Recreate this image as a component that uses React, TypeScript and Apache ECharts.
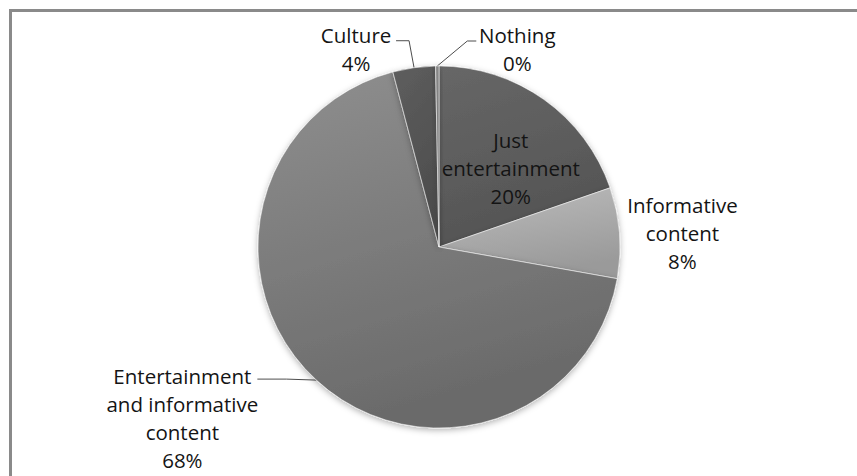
import React, { useEffect, useRef } from 'react';
import * as echarts from 'echarts';

// ---- data ----
const categories = ['Just entertainment', 'Informative content', 'Entertainment and informative content', 'Culture', 'Nothing'];
const labelTexts = ['Just\nentertainment', 'Informative\ncontent', 'Entertainment\nand informative\ncontent', 'Culture', 'Nothing'];
const values = [19.7, 8.1, 68.1, 3.8, 0.3];
const sliceColors = [
  ['#676767', '#545454'],
  ['#bcbcbc', '#9a9a9a'],
  ['#8f8f8f', '#6a6a6a'],
  ['#5e5e5e', '#4c4c4c'],
  ['#8a8a8a', '#707070'],
];

// ---- layout ----
const CX = 439;
const CY = 247;
const R = 181;

type Placement = { frac: number; dx: number; dy: number; va: 'top' | 'middle'; line: number[][] | null };
const placements: Placement[] = [
  { frac: 0.56, dx: 13, dy: 4, va: 'middle', line: null },
  { frac: 1, dx: 63, dy: 0, va: 'middle', line: null },
  { frac: 1, dx: -134, dy: -18, va: 'top', line: [[-30, -1], [-59, -1]] },
  { frac: 1, dx: -58, dy: -47, va: 'top', line: [[-5, -27], [-18, -27]] },
  { frac: 1, dx: 80, dy: -45, va: 'top', line: [[30, -25], [39, -25]] },
];

const total = values.reduce((a, b) => a + b, 0);
const starts: number[] = [];
values.reduce((acc, v, i) => { starts[i] = acc; return acc + v; }, 0);

function pointAt(i: number, frac: number): number[] {
  const mid = ((starts[i] + values[i] / 2) / total) * 2 * Math.PI;
  return [CX + R * frac * Math.sin(mid), CY - R * frac * Math.cos(mid)];
}

export default function App() {
  const ref = useRef<HTMLDivElement>(null);
  useEffect(() => {
    if (!ref.current) return;
    const chart = echarts.init(ref.current, undefined, { renderer: 'svg' });
    const textStyle = {
      fontFamily: '"Open Sans", "Noto Sans", sans-serif',
      fontSize: 20.5,
      lineHeight: 28,
      color: '#141414',
    };
    chart.setOption({
      animation: false,
      backgroundColor: '#ffffff',
      graphic: [
        {
          type: 'rect',
          silent: true,
          z: -10,
          shape: { x: 10.5, y: 10.5, width: 900, height: 520 },
          style: { fill: 'none', stroke: '#8a8a8a', lineWidth: 3 },
        },
      ],
      series: [
        {
          type: 'pie',
          center: [CX, CY],
          radius: R,
          startAngle: 90,
          clockwise: true,
          avoidLabelOverlap: false,
          itemStyle: {
            borderColor: 'rgba(255,255,255,0.5)',
            borderWidth: 1,
            shadowBlur: 6,
            shadowColor: 'rgba(0,0,0,0.3)',
            shadowOffsetY: 2,
          },
          label: {
            show: true,
            position: 'outside',
            ...textStyle,
            formatter: (p: any) => `${labelTexts[p.dataIndex]}\n${Math.round((p.value / total) * 100)}%`,
          },
          labelLine: {
            show: true,
            length: 10,
            length2: 10,
            lineStyle: { color: '#4d4d4d', width: 1 },
          },
          labelLayout: (p: any) => {
            const i = p.dataIndex;
            const pl = placements[i];
            const e = pointAt(i, pl.frac);
            const out: any = {
              x: e[0] + pl.dx,
              y: e[1] + pl.dy,
              align: 'center',
              verticalAlign: pl.va,
            };
            if (pl.line) {
              const e1 = pointAt(i, 1);
              out.labelLinePoints = [e1, ...pl.line.map((d) => [e1[0] + d[0], e1[1] + d[1]])];
            }
            return out;
          },
          data: categories.map((name, i) => ({
            name,
            value: values[i],
            itemStyle: {
              color: {
                type: 'linear',
                x: 0,
                y: 0,
                x2: 0.3,
                y2: 1,
                colorStops: [
                  { offset: 0, color: sliceColors[i][0] },
                  { offset: 1, color: sliceColors[i][1] },
                ],
              },
            },
            label: i === 0 ? { position: 'inside' } : undefined,
            labelLine: placements[i].line ? undefined : { show: false },
          })),
        },
      ],
    });
    return () => chart.dispose();
  }, []);
  return <div ref={ref} style={{ position: 'fixed', left: 0, top: 0, width: 857, height: 476 }} />;
}
